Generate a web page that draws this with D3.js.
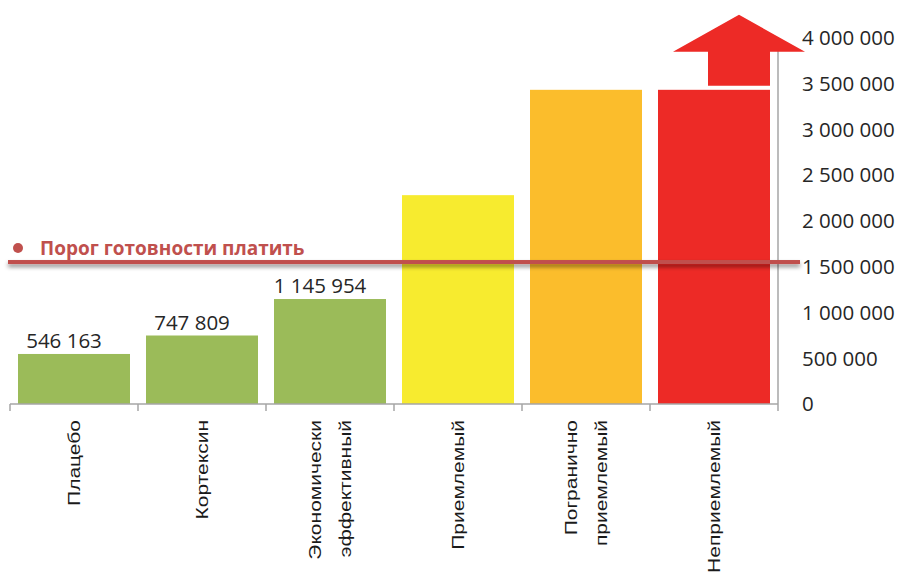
<!DOCTYPE html>
<html><head><meta charset="utf-8">
<script src="https://cdn.jsdelivr.net/npm/d3@7"></script>
<style>body{margin:0;background:#fff}svg{display:block}</style>
</head><body><svg id="c" width="900" height="581"></svg>
<script>
const categories = [["Плацебо"],["Кортексин"],["Экономически","эффективный"],["Приемлемый"],["Погранично","приемлемый"],["Неприемлемый"]];
const values = [546163, 747809, 1145954, 2280000, 3430000, 3430000];
const labelled = [true, true, true, false, false, false];
const colors = ["#9bbb59","#9bbb59","#9bbb59","#f7eb2f","#fbbd2c","#ed2a26"];
const yTicks = [0,500000,1000000,1500000,2000000,2500000,3000000,3500000,4000000];
const threshold = 1550000;
const thresholdLabel = "Порог готовности платить";

(function(){
const svg = d3.select("#c");
const defs = svg.append("defs");
const f = defs.append("filter").attr("id","sh").attr("filterUnits","userSpaceOnUse")
  .attr("x",0).attr("y",0).attr("width",900).attr("height",581);
f.append("feDropShadow").attr("dx",0).attr("dy",3).attr("stdDeviation",2.2).attr("flood-color","#000").attr("flood-opacity",0.45);

const keys = categories.map((c,i)=>"c"+i);
const x = d3.scaleBand().domain(keys).range([10,778]).paddingInner(0.125).paddingOuter(0.0625);
const y = d3.scaleLinear().domain([0,4000000]).range([404,37.6]);
const fmt = v => d3.format(",")(v).replace(/,/g," ");

svg.append("g").selectAll("rect").data(values).join("rect")
  .attr("x",(d,i)=>x(keys[i])).attr("width",x.bandwidth())
  .attr("y",d=>y(d)).attr("height",d=>y(0)-y(d)).attr("fill",(d,i)=>colors[i]);

const axisColor = "#a6a6a6";
const xb = svg.append("g");
xb.append("line").attr("x1",10).attr("x2",778).attr("y1",404).attr("y2",404).attr("stroke",axisColor).attr("stroke-width",1.5);
const bounds = keys.map(k=>x(k)-x.step()*x.paddingInner()/2).concat([778]);
xb.selectAll("line.t").data(bounds).join("line").attr("class","t")
  .attr("x1",d=>d).attr("x2",d=>d).attr("y1",404).attr("y2",411).attr("stroke",axisColor).attr("stroke-width",1.5);
svg.append("line").attr("x1",778).attr("x2",778).attr("y1",y(0)).attr("y2",y(4000000)).attr("stroke",axisColor).attr("stroke-width",1.5);

svg.append("g").selectAll("text").data(yTicks).join("text")
  .attr("x",802).attr("y",d=>y(d)).attr("dy","0.36em")
  .attr("font-family","Open Sans").attr("font-size",20.5).attr("fill","#262626")
  .text(fmt);

svg.append("g").selectAll("text").data(values.map((v,i)=>({v,i})).filter(d=>labelled[d.i])).join("text")
  .attr("x",d=>x(keys[d.i])+x.bandwidth()/2-10).attr("y",d=>y(d.v)-6)
  .attr("text-anchor","middle").attr("font-family","Open Sans").attr("font-size",20.5).attr("fill","#262626")
  .text(d=>fmt(d.v));

const cg = svg.append("g");
categories.forEach((lines,i)=>{
  const cx = x(keys[i])+x.bandwidth()/2;
  lines.forEach((t,j)=>{
    const off = lines.length===1 ? 0 : (j===0 ? -15 : 15);
    cg.append("text")
      .attr("transform",`translate(${cx+off+6},420) scale(0.78,1) rotate(-90)`)
      .attr("text-anchor","end").attr("font-family","Liberation Sans").attr("font-size",21).attr("fill","#1a1a1a")
      .text(t);
  });
});

const li = values.length-1, bx = x(keys[li]), bw = x.bandwidth(), bt = y(values[li]);
const sL = bx+50, sR = bx+bw, sc = (sL+sR)/2;
svg.append("path").attr("fill",colors[li])
  .attr("d",`M${sL},${bt-4}L${sR},${bt-4}L${sR},${bt-38}L${sc+66},${bt-38}L${sc},${bt-75}L${sc-66},${bt-38}L${sL},${bt-38}Z`);

const ty = y(threshold);
svg.append("rect").attr("x",8).attr("width",792).attr("y",ty-2).attr("height",4)
  .attr("fill","#c0504d").attr("filter","url(#sh)");
svg.append("circle").attr("cx",18).attr("cy",248).attr("r",5).attr("fill","#c0504d");
svg.append("text").attr("x",40).attr("y",254.5).attr("font-family","Open Sans").attr("font-weight","bold")
  .attr("font-size",19).attr("fill","#c0504d").text(thresholdLabel);
})();
</script></body></html>
